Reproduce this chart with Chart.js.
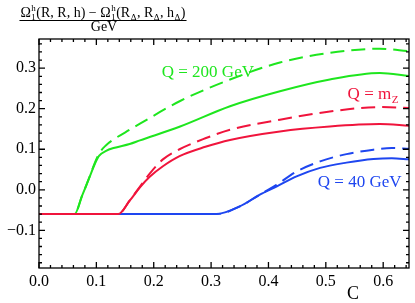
<!DOCTYPE html>
<html>
<head>
<meta charset="utf-8">
<script src="https://cdn.jsdelivr.net/npm/chart.js@4/dist/chart.umd.min.js"></script>
<style>
  html, body { margin: 0; padding: 0; background: #fff; }
  canvas { display: block; }
</style>
</head>
<body>
<canvas id="myChart" width="415" height="303"></canvas>
<script>
// values
const greenC = [0, 0.062, 0.075, 0.088, 0.098, 0.105, 0.117, 0.13, 0.158, 0.176, 0.246, 0.333, 0.42, 0.507, 0.594, 0.645];
const greenSolid = [-0.06, -0.06, -0.015, 0.031, 0.066, 0.084, 0.096, 0.103, 0.113, 0.122, 0.156, 0.206, 0.243, 0.272, 0.288, 0.281];
const greenDashed = [-0.06, -0.06, -0.015, 0.031, 0.069, 0.090, 0.110, 0.124, 0.148, 0.163, 0.219, 0.272, 0.314, 0.338, 0.348, 0.342];

const redC = [0, 0.138, 0.158, 0.176, 0.193, 0.216, 0.245, 0.29, 0.333, 0.42, 0.507, 0.594, 0.645];
const redSolid = [-0.06, -0.06, -0.027, 0.006, 0.032, 0.058, 0.083, 0.106, 0.123, 0.144, 0.156, 0.162, 0.158];
const redDashed = [-0.06, -0.06, -0.027, 0.008, 0.040, 0.075, 0.100, 0.127, 0.148, 0.173, 0.193, 0.204, 0.202];

const blueC = [0, 0.309, 0.35, 0.385, 0.414, 0.449, 0.49, 0.536, 0.583, 0.615, 0.645];
const blueSolid = [-0.06, -0.06, -0.041, -0.012, 0.008, 0.033, 0.054, 0.067, 0.076, 0.078, 0.075];
const blueDashed = [-0.06, -0.06, -0.041, -0.012, 0.012, 0.045, 0.070, 0.088, 0.099, 0.103, 0.101];

const xTicks = [0, 0.1, 0.2, 0.3, 0.4, 0.5, 0.6];
const yTicks = [-0.1, 0, 0.1, 0.2, 0.3];

const GREEN = '#1ee61e';
const RED = '#f0143c';
const BLUE = '#1e46f0';
const SERIF = '"Liberation Serif", "DejaVu Serif", serif';

function toPoints(xs, ys) {
    return xs.map((x, i) => ({ x: x, y: ys[i] }));
}

function lineSet(xs, ys, color, dashed) {
    return {
        data: toPoints(xs, ys),
        borderColor: color,
        borderWidth: 2,
        borderDash: dashed ? [14, 7] : [],
        pointRadius: 0,
        fill: false,
        cubicInterpolationMode: 'monotone'
    };
}

// small rich text helper: strings are normal, {sup, sub} are stacked scripts
function partWidth(ctx, p, size) {
    if (typeof p === 'string') {
        ctx.font = size + 'px ' + SERIF;
        return ctx.measureText(p).width;
    }
    ctx.font = Math.round(size * 0.65) + 'px ' + SERIF;
    return Math.max(ctx.measureText(p.sup || '').width, ctx.measureText(p.sub || '').width) + 1;
}

function drawRich(ctx, parts, x, y, size, align) {
    let w = 0;
    parts.forEach(p => { w += partWidth(ctx, p, size); });
    if (align === 'center') x -= w / 2;
    ctx.textAlign = 'left';
    ctx.textBaseline = 'alphabetic';
    parts.forEach(p => {
        const pw = partWidth(ctx, p, size);
        if (typeof p === 'string') {
            ctx.font = size + 'px ' + SERIF;
            ctx.fillText(p, x, y);
        } else {
            ctx.font = Math.round(size * 0.65) + 'px ' + SERIF;
            if (p.sup) ctx.fillText(p.sup, x + 0.5, y - size * 0.38);
            if (p.sub) ctx.fillText(p.sub, x + 0.5, y + size * 0.25);
        }
        x += pw;
    });
    return w;
}

const frameAndText = {
    id: 'frameAndText',
    afterDraw(chart) {
        const ctx = chart.ctx;
        const xs = chart.scales.x;
        const ys = chart.scales.y;
        const a = chart.chartArea;
        ctx.save();
        ctx.strokeStyle = '#000';
        ctx.lineWidth = 1.3;
        ctx.strokeRect(a.left, a.top, a.right - a.left, a.bottom - a.top);

        // ticks on all four sides, pointing inwards
        ctx.beginPath();
        for (let i = 0; i <= 32; i++) {
            const v = i * 0.02;
            const px = xs.getPixelForValue(v);
            const len = i % 5 === 0 ? 6 : 3;
            ctx.moveTo(px, a.bottom); ctx.lineTo(px, a.bottom - len);
            ctx.moveTo(px, a.top); ctx.lineTo(px, a.top + len);
        }
        for (let i = -9; i <= 18; i++) {
            const v = i * 0.02;
            const py = ys.getPixelForValue(v);
            const len = i % 5 === 0 ? 6 : 3;
            ctx.moveTo(a.left, py); ctx.lineTo(a.left + len, py);
            ctx.moveTo(a.right, py); ctx.lineTo(a.right - len, py);
        }
        ctx.stroke();

        // curve labels
        ctx.fillStyle = GREEN;
        drawRich(ctx, ['Q = 200 GeV'], xs.getPixelForValue(0.214), ys.getPixelForValue(0.278), 17, 'left');
        ctx.fillStyle = RED;
        drawRich(ctx, ['Q = m', { sub: 'Z' }], xs.getPixelForValue(0.538), ys.getPixelForValue(0.225), 17, 'left');
        ctx.fillStyle = BLUE;
        drawRich(ctx, ['Q = 40 GeV'], xs.getPixelForValue(0.486), ys.getPixelForValue(0.007), 17, 'left');

        // axis titles
        ctx.fillStyle = '#000';
        const num = ['\u03A9', { sup: 'h', sub: '1' }, '(R, R, h) \u2212 \u03A9', { sup: 'h', sub: '1' },
            '(R', { sub: '\u0394' }, ', R', { sub: '\u0394' }, ', h', { sub: '\u0394' }, ')'];
        const w = drawRich(ctx, num, 103, 16.5, 14, 'center');
        ctx.lineWidth = 1;
        ctx.beginPath();
        ctx.moveTo(103 - w / 2 - 1, 20.5);
        ctx.lineTo(103 + w / 2 + 1, 20.5);
        ctx.stroke();
        drawRich(ctx, ['GeV'], 104, 31, 14, 'center');
        drawRich(ctx, ['C'], 353, 299, 18, 'center');
        ctx.restore();
    }
};

function buildChart() {
    const ctx = document.getElementById('myChart');
    new Chart(ctx, {
        type: 'line',
        data: {
            datasets: [
                lineSet(redC, redSolid, RED, false),
                lineSet(redC, redDashed, RED, true),
                lineSet(blueC, blueSolid, BLUE, false),
                lineSet(blueC, blueDashed, BLUE, true),
                lineSet(greenC, greenSolid, GREEN, false),
                lineSet(greenC, greenDashed, GREEN, true)
            ]
        },
        options: {
            responsive: false,
            animation: false,
            devicePixelRatio: 1,
            layout: { padding: { top: 39, right: 6, left: 0, bottom: 0 } },
            plugins: { legend: { display: false }, tooltip: { enabled: false } },
            scales: {
                x: {
                    type: 'linear',
                    min: 0,
                    max: 0.645,
                    grid: { display: false, drawTicks: false },
                    border: { display: false },
                    afterBuildTicks: s => { s.ticks = xTicks.map(v => ({ value: v })); },
                    ticks: {
                        autoSkip: false,
                        maxRotation: 0,
                        padding: 4,
                        color: '#000',
                        font: { family: SERIF, size: 16 },
                        callback: v => v.toFixed(1)
                    },
                    afterFit: s => { s.height = 35; }
                },
                y: {
                    type: 'linear',
                    min: -0.193,
                    max: 0.372,
                    grid: { display: false, drawTicks: false },
                    border: { display: false },
                    afterBuildTicks: s => { s.ticks = yTicks.map(v => ({ value: v })); },
                    ticks: {
                        autoSkip: false,
                        padding: 3,
                        color: '#000',
                        font: { family: SERIF, size: 16 },
                        callback: v => (v < -0.001 ? '\u2212' : '') + Math.abs(v).toFixed(1)
                    },
                    afterFit: s => { s.width = 39; }
                }
            }
        },
        plugins: [frameAndText]
    });
}

document.addEventListener('DOMContentLoaded', function () {
    buildChart()
})
</script>
</body>
</html>
